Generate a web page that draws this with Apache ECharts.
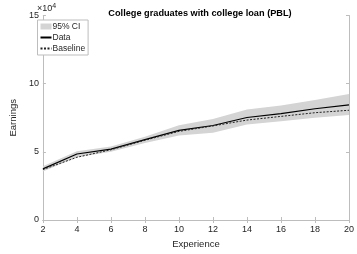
<!DOCTYPE html>
<html>
<head>
<meta charset="utf-8">
<script src="https://cdn.jsdelivr.net/npm/echarts@6/dist/echarts.min.js"></script>
<style>
html, body { margin: 0; padding: 0; background: #fff; }
#chart { width: 357px; height: 254px; }
</style>
</head>
<body>
<div id="chart"></div>
<script>
// experience (years)
let experience = ['2', '4', '6', '8', '10', '12', '14', '16', '18', '20'];
// earnings
let dataEarnings = [37500, 48400, 52000, 59000, 65700, 69300, 75200, 78000, 81600, 84400];
let baselineEarnings = [37000, 46000, 51500, 58500, 65000, 69000, 73300, 76000, 78700, 80500];
let ciLower = [35500, 46000, 50000, 56500, 62000, 64000, 70000, 72500, 75000, 77000];
let ciUpper = [39500, 50500, 54000, 61000, 69500, 74000, 81000, 84000, 88000, 92500];
let yTicks = [0, 50000, 100000, 150000];

let bandWidth = ciUpper.map((u, i) => u - ciLower[i]);

let font = 'Liberation Sans, Arial, sans-serif';
let txt = '#262626';
let axisGray = '#bdbdbd';

let myChart = echarts.init(document.getElementById('chart'));
let option = {
    backgroundColor: '#fff',
    animation: false,
    textStyle: { fontFamily: font },
    title: {
        text: 'College graduates with college loan (PBL)',
        left: 195,
        textAlign: 'center',
        top: 4,
        textStyle: { fontSize: 9.2, fontWeight: 'bold', color: '#000', fontFamily: font }
    },
    graphic: [{
        type: 'text',
        left: 37,
        top: 3,
        style: {
            text: '×10{sup|4}',
            fill: txt,
            font: '9px ' + font,
            rich: { sup: { fontSize: 7, verticalAlign: 'top', padding: [0, 0, 4, 0] } }
        }
    }],
    grid: { left: 36.7, right: 3, top: 15.5, bottom: 29 },
    legend: {
        orient: 'vertical',
        left: 37.5,
        top: 20,
        padding: [2, 3, 2, 2],
        itemGap: 2,
        itemWidth: 11,
        itemHeight: 6,
        borderColor: axisGray,
        borderWidth: 1,
        borderRadius: 0,
        backgroundColor: '#fff',
        textStyle: { fontSize: 8.5, color: txt, fontFamily: font, padding: [0, 0, 0, -4] },
        data: [
            { name: '95% CI', icon: 'rect' },
            { name: 'Data', itemStyle: { opacity: 0 } },
            { name: 'Baseline', itemStyle: { opacity: 0 } }
        ]
    },
    xAxis: [{
        type: 'category',
        data: experience,
        boundaryGap: false,
        name: 'Experience',
        nameLocation: 'middle',
        nameGap: 19,
        nameTextStyle: { fontSize: 9.5, color: txt },
        axisLine: { lineStyle: { color: axisGray } },
        axisTick: { inside: true, length: 3, alignWithLabel: true, lineStyle: { color: axisGray } },
        axisLabel: { fontSize: 9, color: txt, margin: 5 },
        splitLine: { show: false }
    }, {
        type: 'category',
        data: experience,
        boundaryGap: false,
        position: 'top',
        axisLine: { show: true, lineStyle: { color: axisGray } },
        axisTick: { inside: true, length: 3, lineStyle: { color: axisGray } },
        axisLabel: { show: false },
        splitLine: { show: false }
    }],
    yAxis: [{
        type: 'value',
        min: 0,
        max: 150000,
        interval: 50000,
        name: 'Earnings',
        nameLocation: 'middle',
        nameGap: 10,
        nameTextStyle: { fontSize: 9.5, color: txt },
        axisLine: { show: true, lineStyle: { color: axisGray } },
        axisTick: { show: true, inside: true, length: 3, lineStyle: { color: axisGray } },
        axisLabel: {
            fontSize: 9, color: txt, margin: 4,
            formatter: v => yTicks.includes(v) ? String(v / 10000) : ''
        },
        splitLine: { show: false }
    }, {
        type: 'value',
        position: 'right',
        min: 0,
        max: 150000,
        interval: 50000,
        axisLine: { show: true, lineStyle: { color: axisGray } },
        axisTick: { show: true, inside: true, length: 3, lineStyle: { color: axisGray } },
        axisLabel: { show: false },
        splitLine: { show: false }
    }],
    series: [{
        name: 'ciBase',
        type: 'line',
        stack: 'ci',
        data: ciLower,
        symbol: 'none',
        lineStyle: { opacity: 0 },
        silent: true
    }, {
        name: '95% CI',
        type: 'line',
        stack: 'ci',
        data: bandWidth,
        symbol: 'none',
        color: '#d4d4d4',
        lineStyle: { opacity: 0 },
        areaStyle: { color: '#d4d4d4', opacity: 1 },
        silent: true
    }, {
        name: 'Data',
        type: 'line',
        data: dataEarnings,
        symbol: 'none',
        color: '#000',
        lineStyle: { color: '#000', width: 1.2 }
    }, {
        name: 'Baseline',
        type: 'line',
        data: baselineEarnings,
        symbol: 'none',
        color: '#222',
        lineStyle: { color: '#222', width: 1, type: [2, 1.5] }
    }]
};

myChart.setOption(option);
</script>
</body>
</html>
